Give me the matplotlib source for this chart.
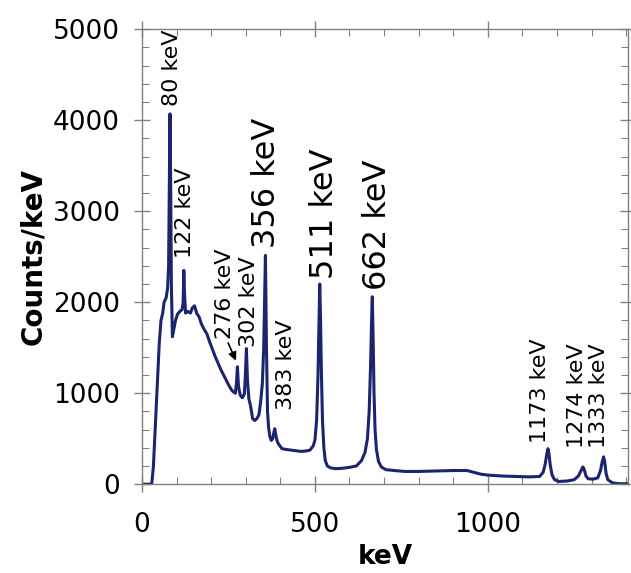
import matplotlib
matplotlib.use("Agg")
import matplotlib.pyplot as plt
from matplotlib.ticker import MultipleLocator

# spectrum: energy (keV) and counts/keV
energy = [0, 28, 33, 42, 50, 55, 60, 64, 70, 74, 77, 79, 81, 83, 85, 88,
          92, 97, 103, 110, 116, 119, 121, 123, 126, 132, 140, 146, 152,
          158, 165, 172, 180, 188, 196, 204, 212, 220, 228, 236, 244, 252,
          260, 266, 270, 273, 276, 279, 284, 290, 296, 299, 302, 305, 309,
          314, 320, 326, 332, 338, 343, 348, 352, 355, 357, 360, 363, 366,
          370, 374, 378, 382, 384, 387, 391, 395, 405, 420, 440, 460, 475,
          486, 495, 500, 505, 509, 512, 514, 516, 519, 522, 526, 530, 536,
          545, 560, 580, 600, 620, 635, 645, 652, 657, 661, 664, 666, 668,
          671, 674, 678, 684, 692, 705, 730, 760, 800, 850, 900, 940, 960,
          980, 1000, 1040, 1080, 1120, 1150, 1160, 1166, 1171, 1174, 1177,
          1181, 1186, 1193, 1205, 1230, 1250, 1262, 1270, 1275, 1279, 1284,
          1290, 1305, 1318, 1326, 1331, 1335, 1338, 1342, 1347, 1360, 1380,
          1405]
counts = [0, 0, 190, 920, 1550, 1800, 1880, 2000, 2050, 2150, 2400, 3200,
          4070, 3300, 2200, 1620, 1700, 1800, 1870, 1900, 1920, 2000, 2350,
          2100, 1880, 1900, 1880, 1940, 1960, 1880, 1840, 1760, 1700, 1650,
          1560, 1480, 1400, 1330, 1260, 1200, 1140, 1080, 1030, 1010, 1000,
          1100, 1290, 1080, 980, 950, 990, 1200, 1490, 1150, 940, 860, 720,
          700, 720, 760, 900, 1100, 1500, 2100, 2515, 1500, 800, 630, 520,
          480, 500, 580, 610, 540, 470, 440, 390, 380, 370, 360, 365, 375,
          420, 480, 700, 1200, 1800, 2200, 1900, 1200, 700, 400, 260, 200,
          180, 170, 175, 185, 200, 260, 350, 500, 800, 1300, 1800, 2060,
          1700, 1000, 600, 380, 250, 190, 160, 150, 140, 140, 145, 150, 150,
          130, 110, 100, 90, 85, 80, 85, 130, 220, 340, 390, 330, 200, 100,
          50, 30, 35, 50, 90, 150, 190, 160, 90, 60, 55, 70, 150, 250, 300,
          250, 120, 50, 15, 5, 5]

# peak labels: text, x, y (bottom of text)
labels = ["80 keV", "122 keV", "276 keV", "302 keV", "356 keV", "383 keV",
          "511 keV", "662 keV", "1173 keV", "1274 keV", "1333 keV"]
label_x = [86, 124, 240, 309, 361, 416, 529, 682, 1150, 1259, 1323]
label_y = [4160, 2490, 1600, 1510, 2600, 810, 2260, 2130, 450, 395, 395]
big = ["356 keV", "511 keV", "662 keV"]

line_color = "#1c2470"
grey = "#808080"

fig = plt.figure(figsize=(6.31, 5.73), dpi=100)
ax = fig.add_axes([0.225, 0.155, 0.77, 0.794])

ax.plot(energy, counts, color=line_color, lw=2.2, solid_joinstyle="round")

for txt, x, y in zip(labels, label_x, label_y):
    ax.text(x, y, txt, rotation=90, ha="center", va="bottom",
            fontsize=23 if txt in big else 16)

ax.annotate("", xy=(275, 1330), xytext=(246, 1580),
            arrowprops=dict(arrowstyle="-|>", color="black", lw=1.2,
                            mutation_scale=12))

ax.set_xlim(0, 1405)
ax.set_ylim(0, 5000)
ax.xaxis.set_major_locator(MultipleLocator(500))
ax.xaxis.set_minor_locator(MultipleLocator(100))
ax.yaxis.set_major_locator(MultipleLocator(1000))
ax.yaxis.set_minor_locator(MultipleLocator(200))

ax.tick_params(which="both", top=True, right=True, color=grey)
ax.tick_params(which="major", direction="inout", length=12, width=1.0,
               labelsize=19)
ax.tick_params(which="minor", direction="in", length=5, width=0.8)
ax.tick_params(axis="y", which="major", pad=10)
ax.tick_params(axis="x", which="major", pad=14)
for s in ax.spines.values():
    s.set_color(grey)
    s.set_linewidth(1.0)

ax.set_xlabel("keV", fontsize=19, fontweight="bold", labelpad=4)
ax.set_ylabel("Counts/keV", fontsize=20, fontweight="bold", labelpad=4)

fig.savefig("out.png", dpi=100)
